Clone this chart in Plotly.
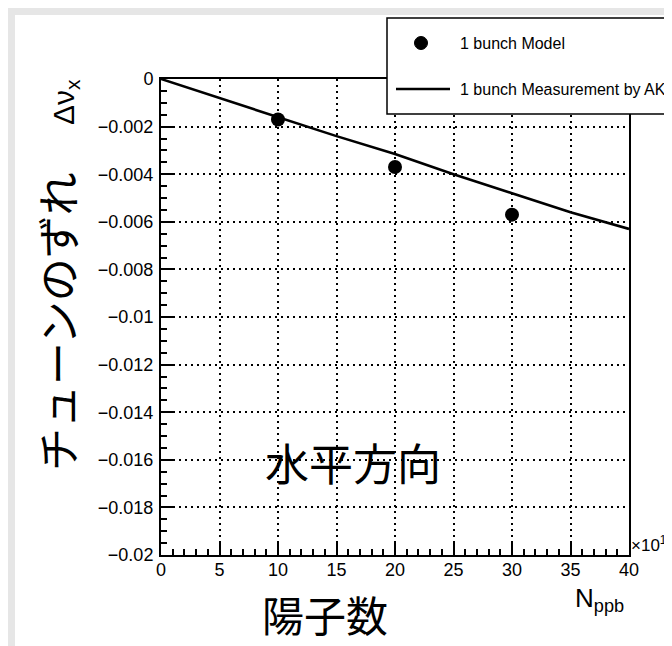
import plotly.graph_objects as go

# ---------------- data ----------------
model_x = [10, 20, 30]
model_y = [-0.0017, -0.0037, -0.0057]

meas_x = [0, 5, 10, 15, 20, 25, 30, 35, 40]
meas_y = [0.0, -0.0008, -0.0016, -0.0024, -0.00315, -0.0040, -0.0048, -0.0056, -0.0063]

x_tick_vals = [0, 5, 10, 15, 20, 25, 30, 35, 40]
x_tick_text = ["0", "5", "10", "15", "20", "25", "30", "35", "40"]
y_tick_vals = [0, -0.002, -0.004, -0.006, -0.008, -0.01, -0.012, -0.014, -0.016, -0.018, -0.02]
y_tick_text = ["0", "\u22120.002", "\u22120.004", "\u22120.006", "\u22120.008", "\u22120.01",
               "\u22120.012", "\u22120.014", "\u22120.016", "\u22120.018", "\u22120.02"]

legend_names = ["1 bunch Model", "1 bunch Measurement by AK"]

# ---------------- layout geometry ----------------
W, H = 672, 646
L, R, T, B = 153, 51, 71, 99
PW = W - L - R
PH = H - T - B


def px(x):
    return (x - L) / PW


def py(y):
    return (H - B - y) / PH


LAT = "Liberation Sans, Arial, Helvetica, sans-serif"
JP = "Noto Sans CJK JP, Noto Sans CJK SC, sans-serif"

fig = go.Figure()
fig.add_trace(go.Scatter(
    x=meas_x, y=meas_y, mode="lines", name=legend_names[1],
    line=dict(color="black", width=2.6), showlegend=False))
fig.add_trace(go.Scatter(
    x=model_x, y=model_y, mode="markers", name=legend_names[0],
    marker=dict(color="black", size=14, symbol="circle"), showlegend=False))

axis_common = dict(
    showline=True, linecolor="black", linewidth=2, mirror=True,
    ticks="inside", ticklen=12, tickwidth=1.5, tickcolor="black",
    showgrid=True, gridcolor="black", gridwidth=1.5, griddash="2px,4px",
    zeroline=False,
    tickfont=dict(family=LAT, size=18, color="black"),
)

fig.update_xaxes(
    range=[0, 40], tickmode="array", tickvals=x_tick_vals, ticktext=x_tick_text,
    minor=dict(ticks="inside", ticklen=6, tickwidth=1.5, tickcolor="black",
               dtick=1, showgrid=False),
    ticklabelstandoff=-3,
    **axis_common)
fig.update_yaxes(
    range=[-0.02, 0], tickmode="array", tickvals=y_tick_vals, ticktext=y_tick_text,
    minor=dict(ticks="inside", ticklen=6, tickwidth=1.5, tickcolor="black",
               dtick=0.0005, tick0=0, showgrid=False),
    ticklabelstandoff=2,
    **axis_common)

shapes = [
    # white panel over gray page
    dict(type="rect", xref="paper", yref="paper", x0=px(7), x1=px(W + 5), y0=py(640), y1=py(7),
         fillcolor="white", line=dict(width=0), layer="below"),
    # legend box
    dict(type="rect", xref="paper", yref="paper", x0=px(379), x1=px(W + 20), y0=py(106), y1=py(10),
         fillcolor="white", line=dict(color="black", width=1.5), layer="above"),
    # legend line sample
    dict(type="line", xref="paper", yref="paper", x0=px(388), x1=px(442), y0=py(81), y1=py(81),
         line=dict(color="black", width=2.6), layer="above"),
    # legend marker sample
    dict(type="circle", xref="paper", yref="paper", xsizemode="pixel", ysizemode="pixel",
         xanchor=px(413), yanchor=py(35), x0=-6.5, x1=6.5, y0=-6.5, y1=6.5,
         fillcolor="black", line=dict(color="black", width=1), layer="above"),
]

annotations = [
    dict(text=legend_names[0], x=px(450), y=py(35), xanchor="left", yanchor="middle",
         font=dict(family=LAT, size=16, color="black")),
    dict(text=legend_names[1], x=px(450), y=py(81), xanchor="left", yanchor="middle",
         font=dict(family=LAT, size=16, color="black")),
    # y-axis physics title
    dict(text="\u0394\u03bd<sub>x</sub>", x=px(57), y=py(69), xanchor="center", yanchor="top",
         textangle=-90, font=dict(family=LAT, size=30, color="black")),
    # Japanese y title
    dict(text="チューンのずれ", x=px(48), y=py(314), xanchor="center", yanchor="middle",
         textangle=-90, font=dict(family=JP, size=43, color="black")),
    # x-axis physics title
    dict(text="N<sub>ppb</sub>", x=px(565), y=py(573), xanchor="left", yanchor="top",
         font=dict(family=LAT, size=26, color="black")),
    # exponent
    dict(text="\u00d710<sup>12</sup>", x=px(621), y=py(549), xanchor="left", yanchor="bottom",
         font=dict(family=LAT, size=17, color="black")),
    # Japanese x title
    dict(text="陽子数", x=px(317), y=py(638), xanchor="center", yanchor="bottom",
         font=dict(family=JP, size=42, color="black")),
    # annotation inside plot
    dict(text="水平方向", x=px(345), y=py(454), xanchor="center", yanchor="middle",
         font=dict(family=JP, size=44, color="black")),
]
for a in annotations:
    a.update(xref="paper", yref="paper", showarrow=False)

fig.update_layout(
    width=W, height=H,
    margin=dict(l=L, r=R, t=T, b=B, pad=0),
    paper_bgcolor="#e6e6e6", plot_bgcolor="white",
    shapes=shapes, annotations=annotations,
    showlegend=False,
)

fig.write_html("out.html")
